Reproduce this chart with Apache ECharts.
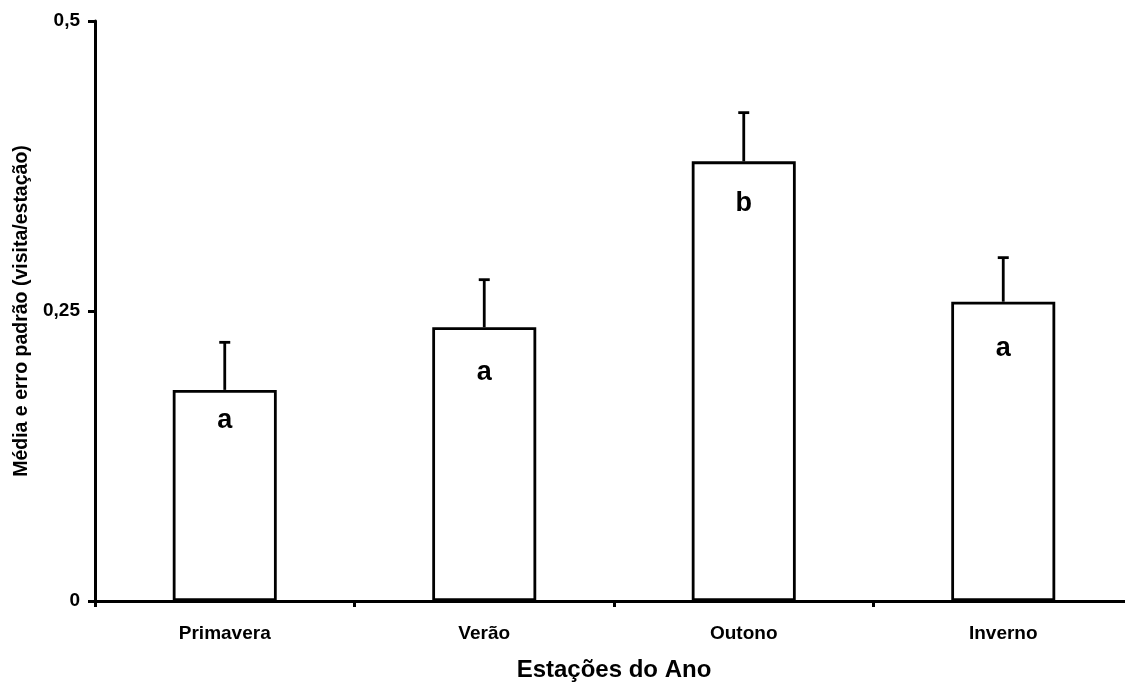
<!DOCTYPE html>
<html>
<head>
<meta charset="utf-8">
<script src="https://cdn.jsdelivr.net/npm/echarts@6/dist/echarts.min.js"></script>
<style>
  html, body { margin: 0; padding: 0; background: #fff; }
  #chart { width: 1125px; height: 684px; }
</style>
</head>
<body>
<div id="chart"></div>
<script>
// Visits per season: mean and standard error, with significance letters
const seasons = ['Primavera', 'Verão', 'Outono', 'Inverno'];
const means = [0.182, 0.236, 0.379, 0.258];
const stdErrors = [0.041, 0.041, 0.042, 0.038];
const groupLetters = ['a', 'a', 'b', 'a'];
const yTicks = [0, 0.25, 0.5];

// vertical offset of each letter below the bar top (px)
const letterOffsets = [31, 45, 42, 47];

const FONT = '"Liberation Sans", Arial, sans-serif';
const chart = echarts.init(document.getElementById('chart'), null, { renderer: 'canvas' });

chart.setOption({
  backgroundColor: '#fff',
  animation: false,
  // plot area runs slightly past the right edge of the canvas
  grid: {
    left: 95, top: 21, width: 1038, height: 580,
    containLabel: false,
    outerBoundsMode: 'none'
  },
  xAxis: {
    type: 'category',
    data: seasons,
    name: 'Estações do Ano',
    nameLocation: 'middle',
    nameGap: 57,
    nameTextStyle: { fontFamily: FONT, fontWeight: 'bold', fontSize: 24, color: '#000' },
    axisLine: { lineStyle: { color: '#000', width: 3 } },
    axisTick: { show: true, alignWithLabel: false, length: 6, lineStyle: { color: '#000', width: 3 } },
    axisLabel: { fontFamily: FONT, fontWeight: 'bold', fontSize: 19, color: '#000', margin: 23 },
    splitLine: { show: false }
  },
  yAxis: {
    type: 'value',
    min: yTicks[0],
    max: yTicks[yTicks.length - 1],
    interval: yTicks[1] - yTicks[0],
    name: 'Média e erro padrão (visita/estação)',
    nameLocation: 'middle',
    nameGap: 58,
    nameTextStyle: { fontFamily: FONT, fontWeight: 'bold', fontSize: 19.5, color: '#000' },
    axisLine: { show: true, lineStyle: { color: '#000', width: 3 } },
    axisTick: { show: true, length: 7, lineStyle: { color: '#000', width: 3 } },
    axisLabel: {
      fontFamily: FONT, fontWeight: 'bold', fontSize: 19, color: '#000', margin: 15,
      formatter: v => String(v).replace('.', ',')
    },
    splitLine: { show: false }
  },
  series: [
    {
      type: 'bar',
      barWidth: 104,
      data: means.map((v, i) => ({
        value: v,
        label: {
          show: true,
          position: ['50%', 0],
          offset: [0, letterOffsets[i]],
          align: 'center',
          verticalAlign: 'middle',
          formatter: () => groupLetters[i],
          fontFamily: FONT, fontWeight: 'bold', fontSize: 27, color: '#000'
        }
      })),
      itemStyle: { color: '#fff', borderColor: '#000', borderWidth: 2.8 },
      z: 2
    },
    {
      type: 'custom',
      data: means.map((v, i) => [i, v, v + stdErrors[i]]),
      renderItem: (params, api) => {
        const base = api.coord([api.value(0), api.value(1)]);
        const top = api.coord([api.value(0), api.value(2)]);
        const capHalf = 5.5;
        const style = { stroke: '#000', lineWidth: 2.8, fill: null };
        return {
          type: 'group',
          children: [
            { type: 'line', shape: { x1: base[0], y1: base[1], x2: top[0], y2: top[1] }, style },
            { type: 'line', shape: { x1: top[0] - capHalf, y1: top[1], x2: top[0] + capHalf, y2: top[1] }, style }
          ]
        };
      },
      z: 3
    }
  ]
});
</script>
</body>
</html>
